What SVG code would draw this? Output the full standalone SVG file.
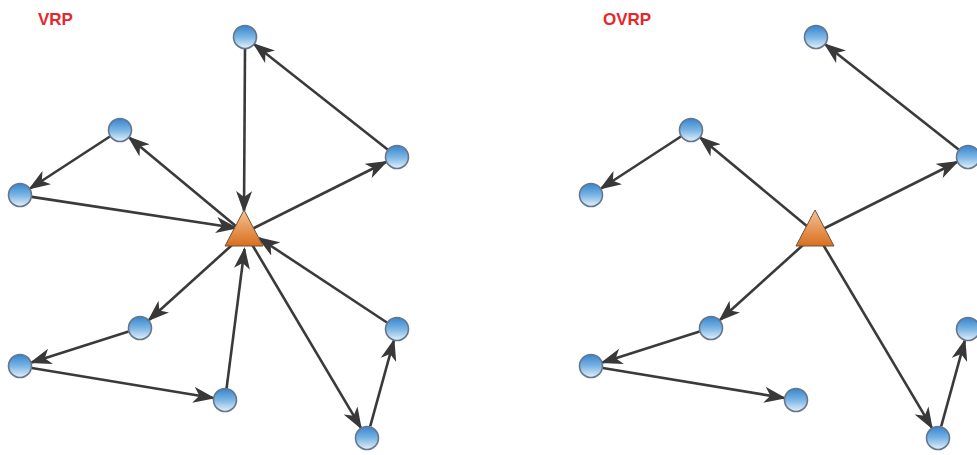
<svg xmlns="http://www.w3.org/2000/svg" width="977" height="455" viewBox="0 0 977 455">
  <defs>
    <linearGradient id="ball" x1="0" y1="0" x2="0" y2="1">
      <stop offset="0" stop-color="#3584cf"/>
      <stop offset="0.5" stop-color="#7ab4e3"/>
      <stop offset="1" stop-color="#e4f1fb"/>
    </linearGradient>
    <linearGradient id="depotFill" x1="0" y1="0" x2="0" y2="1">
      <stop offset="0" stop-color="#f4c297"/>
      <stop offset="1" stop-color="#d96f1c"/>
    </linearGradient>
    <marker id="arrow" markerUnits="userSpaceOnUse" markerWidth="22" markerHeight="16" refX="20" refY="8" orient="auto">
      <path d="M0,0 L22,8 L0,16 L6,8 z" fill="#383838"/>
    </marker>
  </defs>
  <style>
    .title { font-family: "Liberation Sans", Arial, sans-serif; font-weight: bold; font-size: 17px; fill: #e8262a; }
    .edge { stroke: #3a3a3a; stroke-width: 2.6; fill: none; marker-end: url(#arrow); }
    .node { fill: url(#ball); stroke: #66768a; stroke-width: 1.6; }
    .depot { fill: url(#depotFill); stroke: #6e5340; stroke-width: 1; }
  </style>

  <rect width="977" height="455" fill="#ffffff"/>

  <text class="title" x="38" y="25">VRP</text>
  <text class="title" x="603" y="25">OVRP</text>

  <g id="connectors">
    <!-- closed tours, each returning to the depot -->
    <line class="edge" x1="245" y1="49" x2="244" y2="211"/>
    <line class="edge" x1="246" y1="232" x2="386" y2="162"/>
    <line class="edge" x1="387.6" y1="149.6" x2="254.4" y2="44.4"/>
    <line class="edge" x1="243" y1="232" x2="129.2" y2="137.6"/>
    <line class="edge" x1="109.9" y1="136.5" x2="30.1" y2="188.5"/>
    <line class="edge" x1="31.8" y1="196.9" x2="236" y2="228"/>
    <line class="edge" x1="242" y1="236" x2="149" y2="320"/>
    <line class="edge" x1="128.6" y1="331.6" x2="31.4" y2="362.4"/>
    <line class="edge" x1="31.8" y1="368" x2="213.2" y2="398"/>
    <line class="edge" x1="226.6" y1="388.1" x2="244.5" y2="249"/>
    <line class="edge" x1="247" y1="236" x2="360.8" y2="427.7"/>
    <line class="edge" x1="370.2" y1="426.4" x2="393.8" y2="340.6"/>
    <line class="edge" x1="386.9" y1="322.5" x2="259" y2="238"/>

    <!-- open routes, ending at the last customer -->
    <line class="edge" x1="817" y1="232" x2="957" y2="162"/>
    <line class="edge" x1="958.6" y1="149.6" x2="825.4" y2="44.4"/>
    <line class="edge" x1="814" y1="232" x2="700.2" y2="137.6"/>
    <line class="edge" x1="680.9" y1="136.5" x2="601.1" y2="188.5"/>
    <line class="edge" x1="813" y1="236" x2="720" y2="320"/>
    <line class="edge" x1="699.6" y1="331.6" x2="602.4" y2="362.4"/>
    <line class="edge" x1="602.8" y1="368" x2="784.2" y2="398"/>
    <line class="edge" x1="818" y1="236" x2="931.8" y2="427.7"/>
    <line class="edge" x1="941.2" y1="426.4" x2="964.8" y2="340.6"/>
  </g>

  <!-- VRP nodes -->
  <g id="vrp-depot"><polygon class="depot" points="244,210 225,246 263,246"/></g>
  <g id="vrp-a"><circle class="node" cx="245" cy="37" r="11.5"/></g>
  <g id="vrp-b"><circle class="node" cx="397" cy="157" r="11.5"/></g>
  <g id="vrp-c"><circle class="node" cx="120" cy="130" r="11.5"/></g>
  <g id="vrp-d"><circle class="node" cx="20" cy="195" r="11.5"/></g>
  <g id="vrp-e"><circle class="node" cx="140" cy="328" r="11.5"/></g>
  <g id="vrp-f"><circle class="node" cx="20" cy="366" r="11.5"/></g>
  <g id="vrp-g"><circle class="node" cx="225" cy="400" r="11.5"/></g>
  <g id="vrp-h"><circle class="node" cx="367" cy="438" r="11.5"/></g>
  <g id="vrp-i"><circle class="node" cx="397" cy="329" r="11.5"/></g>

  <!-- OVRP nodes -->
  <g id="ovrp-depot"><polygon class="depot" points="815,210 796,246 834,246"/></g>
  <g id="ovrp-a"><circle class="node" cx="816" cy="37" r="11.5"/></g>
  <g id="ovrp-b"><circle class="node" cx="968" cy="157" r="11.5"/></g>
  <g id="ovrp-c"><circle class="node" cx="691" cy="130" r="11.5"/></g>
  <g id="ovrp-d"><circle class="node" cx="591" cy="195" r="11.5"/></g>
  <g id="ovrp-e"><circle class="node" cx="711" cy="328" r="11.5"/></g>
  <g id="ovrp-f"><circle class="node" cx="591" cy="366" r="11.5"/></g>
  <g id="ovrp-g"><circle class="node" cx="796" cy="400" r="11.5"/></g>
  <g id="ovrp-h"><circle class="node" cx="938" cy="438" r="11.5"/></g>
  <g id="ovrp-i"><circle class="node" cx="968" cy="329" r="11.5"/></g>
</svg>
